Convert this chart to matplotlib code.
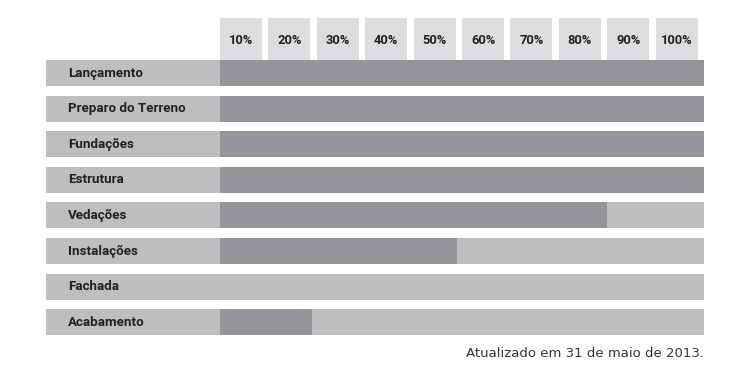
import matplotlib
matplotlib.use("Agg")
import matplotlib.pyplot as plt

stages = ["Lançamento", "Preparo do Terreno", "Fundações", "Estrutura",
          "Vedações", "Instalações", "Fachada", "Acabamento"]
progress = [100, 100, 100, 100, 80, 49, 0, 19]
tick_values = [10, 20, 30, 40, 50, 60, 70, 80, 90, 100]
tick_labels = ["10%", "20%", "30%", "40%", "50%", "60%", "70%", "80%", "90%", "100%"]
footnote = "Atualizado em 31 de maio de 2013."

W, H = 750, 382
fig = plt.figure(figsize=(W / 100, H / 100), dpi=100)
ax = fig.add_axes([0, 0, 1, 1])

px_per_pct = (704 - 220) / 100.0
pitch = 35.6
row0 = 73.0
ax.set_xlim(-220 / px_per_pct, (W - 220) / px_per_pct)
ax.set_ylim((H - row0) / pitch, -row0 / pitch)
ax.axis("off")

track_col = "#bdbec0"
bar_col = "#939598"
head_col = "#dcdddf"
text_col = "#231f20"

label_left = (46 - 220) / px_per_pct
bh = 26 / pitch
ys = list(range(len(stages)))

# label cells
ax.barh(ys, [-label_left] * len(stages), left=label_left, height=bh, color=track_col, linewidth=0)
# tracks
ax.barh(ys, [100] * len(stages), left=0, height=bh, color=track_col, linewidth=0)
# progress
ax.barh(ys, progress, left=0, height=bh, color=bar_col, linewidth=0)

for y, s in zip(ys, stages):
    ax.text((68 - 220) / px_per_pct, y, s, ha="left", va="center",
            fontsize=9.6, fontweight="bold", color=text_col, family="Roboto")

# header cells
cell_w = 42 / px_per_pct
head_top = (18 - row0) / pitch
head_bot = (60 - row0) / pitch
for v, lab in zip(tick_values, tick_labels):
    left = v - 10
    ax.bar(left, head_bot - head_top, width=cell_w, bottom=head_top, align="edge",
           color=head_col, linewidth=0)
    ax.text(left + cell_w / 2, (40 - row0) / pitch, lab, ha="center", va="center",
            fontsize=9.3, fontweight="bold", color=text_col, family="Roboto")

ax.text(100, (354 - row0) / pitch, footnote, ha="right", va="center",
        fontsize=9.5, color="#333333")

fig.savefig("out.png", dpi=100)
